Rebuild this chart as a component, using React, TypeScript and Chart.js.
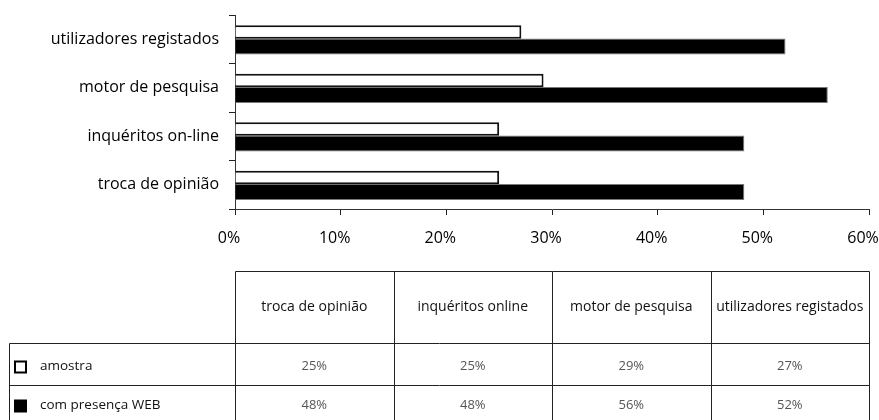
import React, { useEffect, useRef } from "react";
import { Chart, registerables } from "chart.js";

Chart.register(...registerables);

const categories = ["troca de opinião", "inquéritos online", "motor de pesquisa", "utilizadores registados"];
const axisLabels = ["troca de opinião", "inquéritos on-line", "motor de pesquisa", "utilizadores registados"];
const seriesNames = ["amostra", "com presença WEB"];
const amostra = [25, 25, 29.2, 27.1];
const comPresencaWeb = [48.2, 48.2, 56.1, 52.1];
const xTicks = [0, 10, 20, 30, 40, 50, 60];

const FONT = "'Open Sans', 'Noto Sans', sans-serif";

const tablePlugin = {
  id: "dataTable",
  afterDraw(chart: any) {
    const ctx = chart.ctx as CanvasRenderingContext2D;
    const { left, right } = chart.chartArea;
    const n = categories.length;
    const colW = (right - left) / n;
    const top = 271.5, h1 = 343.5, h2 = 385.5, h3 = 427.5, x0 = 9.5;
    const R = Math.round(right) + 0.5;
    const L = Math.round(left) + 0.5;
    ctx.save();
    ctx.strokeStyle = "#222";
    ctx.lineWidth = 1;
    const line = (a: number, b: number, c: number, d: number) => {
      ctx.beginPath();
      ctx.moveTo(a, b);
      ctx.lineTo(c, d);
      ctx.stroke();
    };
    line(L, top, R, top);
    line(x0, h1, R, h1);
    line(x0, h2, R, h2);
    line(x0, h3, R, h3);
    line(x0, h1, x0, h3);
    for (let i = 0; i <= n; i++) {
      const x = Math.round(left + colW * i) + 0.5;
      line(x, top, x, h3);
    }
    // headers
    ctx.fillStyle = "#111";
    ctx.font = `14px ${FONT}`;
    ctx.textAlign = "center";
    ctx.textBaseline = "middle";
    categories.forEach((c, i) => {
      ctx.fillText(c, left + colW * (i + 0.5), (top + h1) / 2);
    });
    // values
    const rows = [amostra, comPresencaWeb];
    const rowMid = [(h1 + h2) / 2 + 2, (h2 + h3) / 2 - 1];
    ctx.fillStyle = "#555";
    ctx.font = `13px ${FONT}`;
    rows.forEach((r, ri) => {
      r.forEach((v, i) => {
        ctx.fillText(Math.round(v) + "%", left + colW * (i + 0.5), rowMid[ri]);
      });
    });
    // legend keys
    ctx.textAlign = "left";
    ctx.font = `13.5px ${FONT}`;
    seriesNames.forEach((s, ri) => {
      const y = rowMid[ri];
      if (ri === 0) {
        ctx.fillStyle = "#fff";
        ctx.fillRect(14, y - 6, 12, 12);
        ctx.strokeStyle = "#000";
        ctx.lineWidth = 2;
        ctx.strokeRect(15, y - 5, 11, 11);
      } else {
        ctx.fillStyle = "#000";
        ctx.fillRect(14, y - 6, 13, 13);
      }
      ctx.fillStyle = "#111";
      ctx.fillText(s, 40, y);
    });
    ctx.restore();
  },
};

export default function App() {
  const ref = useRef<HTMLCanvasElement | null>(null);
  useEffect(() => {
    document.body.style.margin = "0";
    if (!ref.current) return;
    const chart = new Chart(ref.current, {
      type: "bar",
      data: {
        labels: axisLabels,
        datasets: [
          {
            label: seriesNames[0],
            data: amostra,
            backgroundColor: "#ffffff",
            borderColor: "#111",
            borderWidth: 2,
            borderSkipped: "start",
            categoryPercentage: 0.6,
            barPercentage: 0.92,
          },
          {
            label: seriesNames[1],
            data: comPresencaWeb,
            backgroundColor: "#000000",
            borderColor: "#777",
            borderWidth: 1,
            borderSkipped: "start",
            categoryPercentage: 0.6,
            barPercentage: 1.1,
          },
        ],
      },
      options: {
        indexAxis: "y",
        responsive: false,
        animation: false,
        devicePixelRatio: 1,
        layout: { padding: { top: 15, left: 0, right: 0, bottom: 0 } },
        plugins: {
          legend: { display: false },
          tooltip: { enabled: false },
        },
        scales: {
          x: {
            type: "linear",
            min: xTicks[0],
            max: xTicks[xTicks.length - 1],
            afterBuildTicks: (scale: any) => {
              scale.ticks = xTicks.map((v) => ({ value: v }));
            },
            afterFit: (scale: any) => {
              scale.height = 211;
              scale.paddingRight = 10;
              scale.paddingLeft = 0;
            },
            grid: { drawOnChartArea: false, drawTicks: true, tickLength: 6, color: "#222" },
            border: { display: true, color: "#333" },
            ticks: {
              callback: (v: any) => v + "%",
              padding: 14,
              labelOffset: -6,
              color: "#000",
              font: { family: FONT, size: 16 },
              maxRotation: 0,
            },
          },
          y: {
            type: "category",
            reverse: true,
            afterFit: (scale: any) => {
              scale.width = 235;
              scale.paddingTop = 0;
              scale.paddingBottom = 0;
            },
            grid: { drawOnChartArea: false, drawTicks: true, tickLength: 6, color: "#222", offset: true },
            border: { display: true, color: "#333" },
            ticks: {
              padding: 10,
              color: "#000",
              font: { family: FONT, size: 16 },
            },
          },
        },
      },
      plugins: [tablePlugin],
    } as any);
    return () => chart.destroy();
  }, []);
  return (
    <div style={{ width: 879, height: 420 }}>
      <canvas ref={ref} width={879} height={420} style={{ display: "block" }} />
    </div>
  );
}
